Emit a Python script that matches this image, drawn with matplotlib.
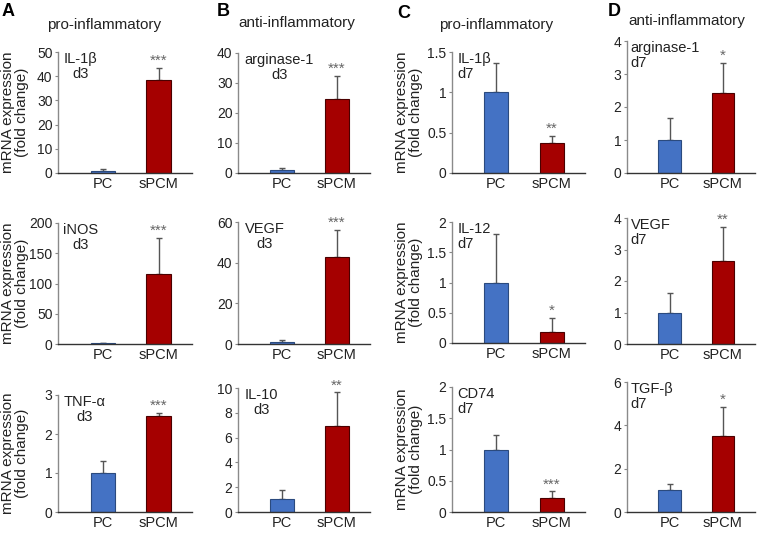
import matplotlib
matplotlib.use("Agg")
import matplotlib.pyplot as plt

plt.rcParams["font.family"] = ["Liberation Sans", "DejaVu Sans"]

# panel order: A1 A2 A3, B1 B2 B3, C1 C2 C3, D1 D2 D3
groups = ["PC", "sPCM"]
genes = ["IL-1β", "iNOS", "TNF-α", "arginase-1", "VEGF", "IL-10",
         "IL-1β", "IL-12", "CD74", "arginase-1", "VEGF", "TGF-β"]
days = ["d3", "d3", "d3", "d3", "d3", "d3", "d7", "d7", "d7", "d7", "d7", "d7"]
pc_mean = [1.0, 1.0, 1.0, 1.0, 1.0, 1.05, 1.0, 1.0, 1.0, 1.0, 1.0, 1.03]
pc_err = [0.6, 0.6, 0.32, 0.8, 1.0, 0.7, 0.36, 0.8, 0.24, 0.67, 0.62, 0.27]
spcm_mean = [38.3, 115, 2.45, 24.8, 43, 6.9, 0.37, 0.19, 0.23, 2.43, 2.62, 3.5]
spcm_err = [5.0, 61, 0.1, 7.7, 13, 2.75, 0.09, 0.22, 0.1, 0.9, 1.1, 1.35]
ymax = [50, 200, 3, 40, 60, 10, 1.5, 2, 2, 4, 4, 6]
ystep = [10, 50, 1, 10, 20, 2, 0.5, 0.5, 0.5, 1, 1, 2]
stars = ["***", "***", "***", "***", "***", "**", "**", "*", "***", "*", "**", "*"]

col_titles = ["pro-inflammatory", "anti-inflammatory", "pro-inflammatory", "anti-inflammatory"]
col_letters = ["A", "B", "C", "D"]

W, H = 760, 533
fig = plt.figure(figsize=(W / 100, H / 100), dpi=100)

# pixel boxes (x0, x1) per column and (top, bottom) per panel
col_x = [(58, 192), (238, 370), (452, 585), (627, 755)]
rows_y = [
    [(52, 173), (223, 344), (395, 512)],
    [(53, 173), (222, 344), (388, 512)],
    [(52, 173), (222, 343), (387, 512)],
    [(41, 173), (218, 344), (382, 512)],
]
label_x = [0.04, 0.05, 0.04, 0.03]
label_ma = ["center", "center", "left", "left"]

blue = "#4472C4"
red = "#A50000"

for c in range(4):
    x0, x1 = col_x[c]
    for r in range(3):
        i = c * 3 + r
        top, bot = rows_y[c][r]
        ax = fig.add_axes([x0 / W, 1 - bot / H, (x1 - x0) / W, (bot - top) / H])
        means = [pc_mean[i], spcm_mean[i]]
        errs = [pc_err[i], spcm_err[i]]
        ax.bar([0, 1], means, width=0.43, color=[blue, red],
               edgecolor=["#2B4A7E", "#4A0000"], linewidth=0.8, zorder=2)
        ax.errorbar([0, 1], means, yerr=[[0, 0], errs], fmt="none",
                    ecolor="#555555", elinewidth=1, capsize=2, capthick=1, zorder=1)
        ax.text(1, spcm_mean[i] + spcm_err[i], stars[i], ha="center", va="bottom",
                fontsize=11, color="#666666")
        ax.set_xlim(-0.8, 1.6)
        ax.set_ylim(0, ymax[i])
        n = int(round(ymax[i] / ystep[i]))
        ticks = [k * ystep[i] for k in range(n + 1)]
        ax.set_yticks(ticks)
        ax.set_yticklabels([("%g" % t) for t in ticks])
        ax.set_xticks([0, 1])
        ax.set_xticklabels(groups)
        ax.tick_params(axis="x", length=0, labelsize=10.5, pad=3, labelcolor="#222222")
        ax.tick_params(axis="y", length=2.5, width=0.8, color="#888888",
                       labelsize=10, pad=1.5, labelcolor="#222222")
        for s in ["top", "right"]:
            ax.spines[s].set_visible(False)
        ax.spines["left"].set_color("#8a8a8a")
        ax.spines["bottom"].set_color("#333333")
        ax.spines["left"].set_linewidth(1)
        ax.spines["bottom"].set_linewidth(1)
        ax.text(label_x[c], 1.0, genes[i] + "\n" + days[i], transform=ax.transAxes,
                ha="left", va="top", fontsize=10.5, multialignment=label_ma[c],
                linespacing=1.1, color="#222222")
        if c in (0, 2):
            ax.set_ylabel("mRNA expression\n(fold change)", fontsize=11,
                          linespacing=1.0, color="#222222")
            ax.yaxis.set_label_coords(-0.215, 0.5)

letter_pos = [(2, 12), (217, 12), (397, 14), (608, 11)]
title_pos = [(104, 25), (297, 23), (496, 25), (687, 21)]
for c in range(4):
    lx, ly = letter_pos[c]
    fig.text(lx / W, 1 - ly / H, col_letters[c], fontsize=13, fontweight="bold",
             ha="left", va="center")
    tx, ty = title_pos[c]
    fig.text(tx / W, 1 - ty / H, col_titles[c], fontsize=11, ha="center", va="center",
             color="#222222")

fig.savefig("out.png", dpi=100)
